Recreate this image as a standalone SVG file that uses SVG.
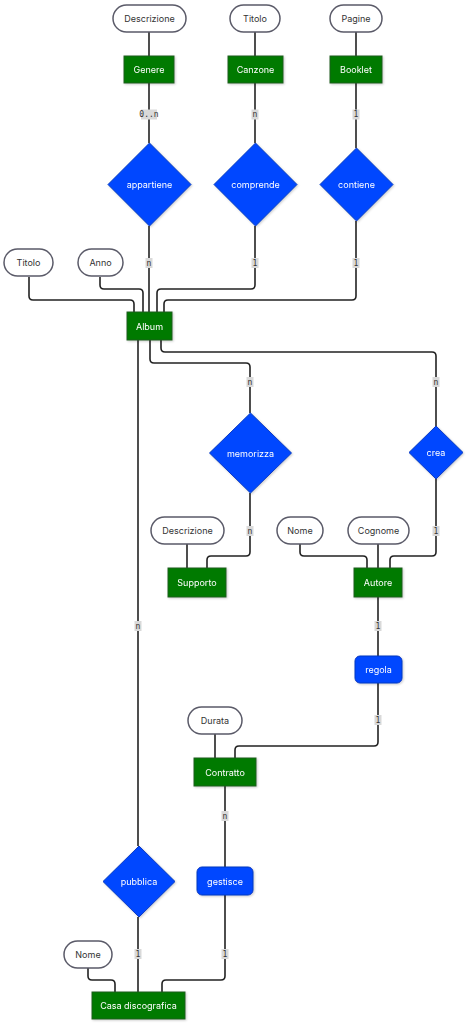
<svg xmlns="http://www.w3.org/2000/svg" width="468" height="1024" viewBox="0 0 468 1024">
<style>
.ent rect{fill:#037a03;stroke:#1e5e1e;stroke-width:1}
.rel polygon,.rel rect{fill:#0046ff;stroke:#0a3bc0;stroke-width:1}
.att rect{fill:#fff;stroke:#5a5a68;stroke-width:1.5}
.ent text,.rel text{fill:#fff;font-family:Inter,"DejaVu Sans",sans-serif;font-size:9px;text-anchor:middle;dominant-baseline:central}
.att text{fill:#333;font-family:Inter,"DejaVu Sans",sans-serif;font-size:9px;text-anchor:middle;dominant-baseline:central}
.edges path{fill:none;stroke:#222;stroke-width:1.6}
.lbl rect{fill:#d9d9d9}
.lbl text{fill:#333;font-family:"DejaVu Sans Mono",monospace;font-size:8px;text-anchor:middle;dominant-baseline:central}
</style>
<defs>
<filter id="sh" x="-10%" y="-10%" width="130%" height="130%"><feDropShadow dx="1" dy="1" stdDeviation="0.8" flood-color="#000" flood-opacity="0.2"/></filter>
</defs>
<rect width="468" height="1024" fill="#fff"/>
<g class="edges">
<path d="M149 31V56"/>
<path d="M255 31V56"/>
<path d="M356 31V56"/>
<path d="M149 83V143"/>
<path d="M255 83V143"/>
<path d="M356 83V148"/>
<path d="M149 226V312"/>
<path d="M255 226V285Q255 289 251 289H161Q157 289 157 293V312"/>
<path d="M356 221V296Q356 300 352 300H168Q164 300 164 304V312"/>
<path d="M29 277V296Q29 300 33 300H130Q134 300 134 304V312"/>
<path d="M100 277V285Q100 289 104 289H139Q143 289 143 293V312"/>
<path d="M150 340V359Q150 363 154 363H246Q250 363 250 367V413"/>
<path d="M161 340V348Q161 352 165 352H432Q436 352 436 356V426"/>
<path d="M138 340V846"/>
<path d="M250 493V552Q250 556 246 556H211Q207 556 207 560V568"/>
<path d="M187 544V568"/>
<path d="M436 479V552Q436 556 432 556H394Q390 556 390 560V568"/>
<path d="M300 544V552Q300 556 304 556H363Q367 556 367 560V568"/>
<path d="M378 544V568"/>
<path d="M378 597V656"/>
<path d="M378 683V742Q378 746 374 746H239Q235 746 235 750V758"/>
<path d="M215 734V758"/>
<path d="M225 786V867"/>
<path d="M138 917V992"/>
<path d="M225 895V976Q225 980 221 980H166Q162 980 162 984V992"/>
<path d="M88 968V976Q88 980 92 980H111Q115 980 115 984V992"/>
<g class="lbl">
<rect x="141" y="109.5" width="16" height="10"/><text x="149" y="114.5">0..n</text>
<rect x="251.5" y="109.5" width="7" height="10"/><text x="255" y="114.5">n</text>
<rect x="352.5" y="109.5" width="7" height="10"/><text x="356" y="114.5">1</text>
<rect x="145.5" y="258" width="7" height="10"/><text x="149" y="263">n</text>
<rect x="251.5" y="258" width="7" height="10"/><text x="255" y="263">1</text>
<rect x="352.5" y="258" width="7" height="10"/><text x="356" y="263">1</text>
<rect x="246.5" y="377" width="7" height="10"/><text x="250" y="382">n</text>
<rect x="432.5" y="377" width="7" height="10"/><text x="436" y="382">n</text>
<rect x="246.5" y="526" width="7" height="10"/><text x="250" y="531">n</text>
<rect x="432.5" y="526" width="7" height="10"/><text x="436" y="531">1</text>
<rect x="374.5" y="621" width="7" height="10"/><text x="378" y="626">1</text>
<rect x="134.5" y="621" width="7" height="10"/><text x="138" y="626">n</text>
<rect x="374.5" y="715" width="7" height="10"/><text x="378" y="720">1</text>
<rect x="221.5" y="811" width="7" height="10"/><text x="225" y="816">n</text>
<rect x="134.5" y="949" width="7" height="10"/><text x="138" y="954">1</text>
<rect x="221.5" y="949" width="7" height="10"/><text x="225" y="954">1</text>
</g>
</g>
<g id="att-descrizione-genere" class="att"><rect x="113" y="5" width="73" height="27" rx="13.5"/><text x="149.5" y="18.5">Descrizione</text></g>
<g id="att-titolo-canzone" class="att"><rect x="230" y="5" width="50" height="27" rx="13.5"/><text x="255" y="18.5">Titolo</text></g>
<g id="att-pagine" class="att"><rect x="330" y="5" width="52" height="27" rx="13.5"/><text x="356" y="18.5">Pagine</text></g>
<g id="genere" class="ent" filter="url(#sh)"><rect x="124" y="56" width="50" height="27"/><text x="149" y="69.5">Genere</text></g>
<g id="canzone" class="ent" filter="url(#sh)"><rect x="228" y="56" width="55" height="27"/><text x="255.5" y="69.5">Canzone</text></g>
<g id="booklet" class="ent" filter="url(#sh)"><rect x="330" y="56" width="52" height="27"/><text x="356" y="69.5">Booklet</text></g>
<g id="appartiene" class="rel" filter="url(#sh)"><polygon points="149.5,143 191,184.5 149.5,226 108,184.5"/><text x="149.5" y="184.5">appartiene</text></g>
<g id="comprende" class="rel" filter="url(#sh)"><polygon points="255.5,143 297,184.5 255.5,226 214,184.5"/><text x="255.5" y="184.5">comprende</text></g>
<g id="contiene" class="rel" filter="url(#sh)"><polygon points="356.5,148 393,184.5 356.5,221 320,184.5"/><text x="356.5" y="184.5">contiene</text></g>
<g id="att-titolo-album" class="att"><rect x="4" y="249" width="49" height="27" rx="13.5"/><text x="28.5" y="262.5">Titolo</text></g>
<g id="att-anno" class="att"><rect x="78" y="249" width="45" height="27" rx="13.5"/><text x="100.5" y="262.5">Anno</text></g>
<g id="album" class="ent" filter="url(#sh)"><rect x="127" y="312" width="45" height="28"/><text x="149.5" y="326">Album</text></g>
<g id="memorizza" class="rel" filter="url(#sh)"><polygon points="250.5,413 291.5,453 250.5,493 209.5,453"/><text x="250.5" y="453">memorizza</text></g>
<g id="crea" class="rel" filter="url(#sh)"><polygon points="436,426 463,452.5 436,479 409,452.5"/><text x="436" y="452.5">crea</text></g>
<g id="att-descrizione-supporto" class="att"><rect x="151" y="517" width="73" height="27" rx="13.5"/><text x="187.5" y="530.5">Descrizione</text></g>
<g id="att-nome-autore" class="att"><rect x="277" y="517" width="46" height="27" rx="13.5"/><text x="300" y="530.5">Nome</text></g>
<g id="att-cognome" class="att"><rect x="348" y="517" width="61" height="27" rx="13.5"/><text x="378.5" y="530.5">Cognome</text></g>
<g id="supporto" class="ent" filter="url(#sh)"><rect x="168" y="568" width="58" height="29"/><text x="197" y="582.5">Supporto</text></g>
<g id="autore" class="ent" filter="url(#sh)"><rect x="354" y="568" width="48" height="29"/><text x="378" y="582.5">Autore</text></g>
<g id="regola" class="rel" filter="url(#sh)"><rect x="355" y="656" width="47" height="27" rx="5"/><text x="378.5" y="669.5">regola</text></g>
<g id="att-durata" class="att"><rect x="188" y="707" width="54" height="27" rx="13.5"/><text x="215" y="720.5">Durata</text></g>
<g id="contratto" class="ent" filter="url(#sh)"><rect x="194" y="758" width="62" height="28"/><text x="225" y="772">Contratto</text></g>
<g id="pubblica" class="rel" filter="url(#sh)"><polygon points="139,846 175,881.5 139,917 103,881.5"/><text x="139" y="881.5">pubblica</text></g>
<g id="gestisce" class="rel" filter="url(#sh)"><rect x="197" y="867" width="56" height="28" rx="5"/><text x="225" y="881">gestisce</text></g>
<g id="att-nome-casa" class="att"><rect x="64" y="941" width="48" height="27" rx="13.5"/><text x="88" y="954.5">Nome</text></g>
<g id="casa-discografica" class="ent" filter="url(#sh)"><rect x="92" y="992" width="93" height="27"/><text x="138.5" y="1005.5">Casa discografica</text></g>
</svg>
